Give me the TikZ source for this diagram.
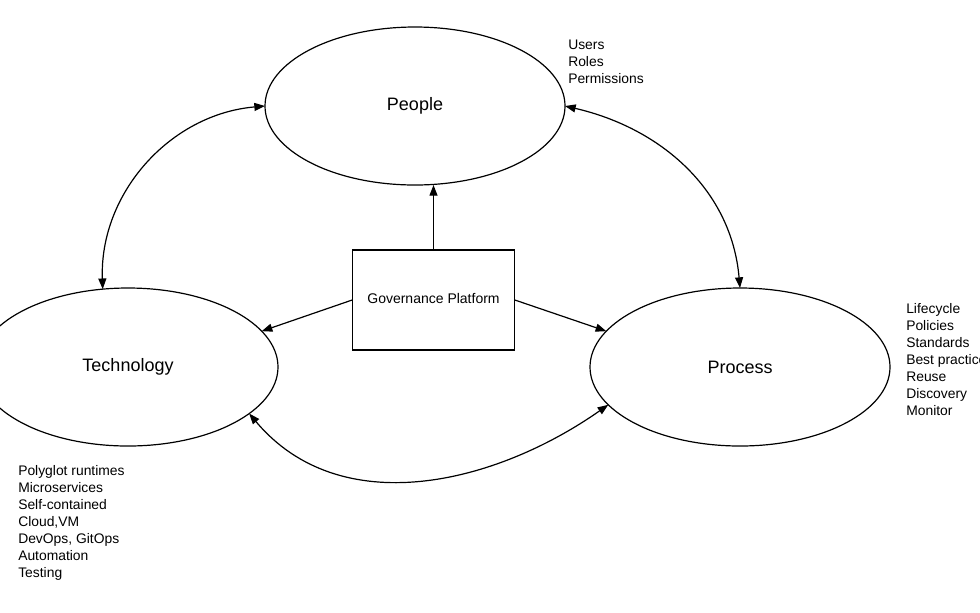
\documentclass[tikz,border=0pt]{standalone}
\usepackage{fontspec}
\setmainfont{Liberation Sans}
\usetikzlibrary{arrows.meta,shapes.geometric}
\tikzset{
  area/.style={draw,ellipse,line width=0.9pt,inner sep=0pt,outer sep=0pt,
    minimum width=225pt,minimum height=118.5pt,font=\fontsize{13.5}{16}\selectfont},
  platform/.style={draw,rectangle,line width=0.9pt,outer sep=0pt,
    minimum width=122pt,minimum height=75pt,font=\fontsize{10.5}{12}\selectfont},
  notes/.style={anchor=north west,align=left,inner sep=0pt,font=\fontsize{10.4}{12.75}\selectfont},
  link/.style={line width=0.9pt,-{Triangle[length=8pt,width=6pt]}},
  twoway/.style={line width=0.9pt,{Triangle[length=8pt,width=6pt]}-{Triangle[length=8pt,width=6pt]}},
}
\begin{document}
\begin{tikzpicture}[x=0.75pt,y=-0.75pt]
\useasboundingbox (0,0) rectangle (980,612);
\node[area] (people) at (415,106) {People};
\node[area] (tech) at (128,367) {Technology};
\node[area] (proc) at (740,367) {Process};
\node[platform] (gov) at (433.5,300) {\raisebox{2pt}{Governance Platform}};

\node[notes] (peoplelist) at (568,40) {Users\\Roles\\Permissions};
\node[notes] (proclist) at (906,303) {Lifecycle\\Policies\\Standards\\Best practices\\Reuse\\Discovery\\Monitor};
\node[notes] (techlist) at (18,465) {Polyglot runtimes\\Microservices\\Self-contained\\Cloud,VM\\DevOps, GitOps\\Automation\\Testing};

\draw[link] (gov.north) -- (people.south -| gov.north);
\draw[link] (gov.west) -- (tech.15);
\draw[link] (gov.east) -- (proc.165);

\draw[twoway] (tech.108) to[out=92,in=185] (people.west);
\draw[twoway] (people.east) to[out=-13,in=95] (proc.north);
\draw[twoway] (tech.-21) to[out=-50,in=-145] (proc.196);
\end{tikzpicture}
\end{document}
